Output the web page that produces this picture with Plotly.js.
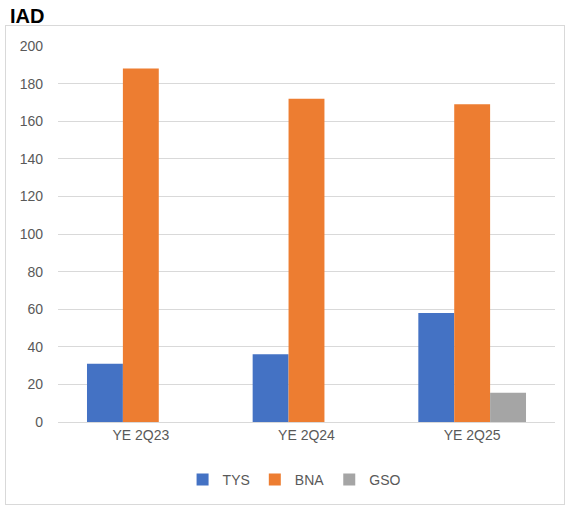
<!DOCTYPE html>
<html><head><meta charset="utf-8">
<script src="https://cdn.plot.ly/plotly-3.0.1.min.js"></script>
<style>
html,body{margin:0;padding:0;background:#fff;}
#frame{position:absolute;left:5px;top:25px;width:560px;height:480px;border:1px solid #D9D9D9;box-sizing:border-box;}
#chart{position:absolute;left:0;top:0;width:569px;height:508px;}
</style></head>
<body>
<div id="frame"></div>
<div id="chart"></div>
<script>
const categories = ["YE 2Q23", "YE 2Q24", "YE 2Q25"];
const tys = [31, 36, 58];
const bna = [188, 172, 169];
const gso = [null, null, 15.5];
const yTicks = [0, 20, 40, 60, 80, 100, 120, 140, 160, 180, 200];

const traces = [
  {type:'bar', name:'TYS', x:categories, y:tys, marker:{color:'#4472C4'}},
  {type:'bar', name:'BNA', x:categories, y:bna, marker:{color:'#ED7D31'}},
  {type:'bar', name:'GSO', x:categories, y:gso, marker:{color:'#A5A5A5'}}
];
const font = {family:'"Liberation Sans", Arial, sans-serif', color:'#595959', size:14};
const layout = {
  width:569, height:508,
  margin:{l:58, r:14, t:46, b:86},
  paper_bgcolor:'rgba(0,0,0,0)', plot_bgcolor:'rgba(0,0,0,0)',
  barmode:'group', bargap:0.35, bargroupgap:0,
  font:font,
  title:{text:'<b>IAD</b>', x:10/569, xref:'container', xanchor:'left', y:1-16/508, yref:'container', yanchor:'middle', font:{family:'"Liberation Sans", Arial, sans-serif', size:20, color:'#000'}},
  xaxis:{type:'category', showline:true, linecolor:'#D9D9D9', linewidth:1, ticks:'', tickfont:font, showgrid:false},
  yaxis:{range:[0,200], tickvals:yTicks, showgrid:true, gridcolor:'#D9D9D9', gridwidth:1, zeroline:false, showline:false, ticks:'', tickfont:font, ticklabelstandoff:14},
  legend:{orientation:'h', x:0.475, xanchor:'center', y:-58/376, yanchor:'middle', font:font, itemwidth:30, traceorder:'normal'},
  showlegend:true
};
Plotly.newPlot('chart', traces, layout, {displayModeBar:false, staticPlot:true});
</script>
</body></html>
